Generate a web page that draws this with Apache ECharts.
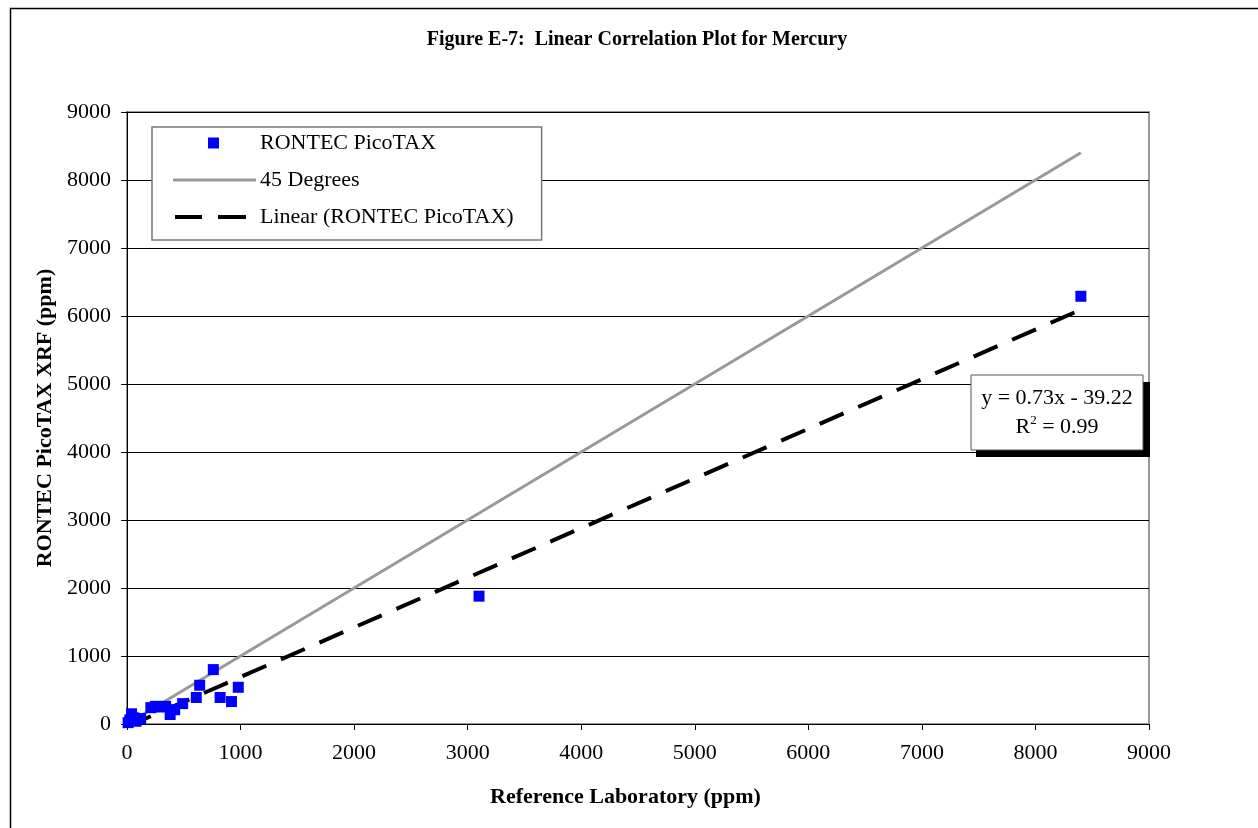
<!DOCTYPE html>
<html><head><meta charset="utf-8">
<script src="https://cdn.jsdelivr.net/npm/echarts@6/dist/echarts.min.js"></script>
<style>html,body{margin:0;padding:0;background:#fff}#c{width:1258px;height:828px}</style>
</head><body><div id="c"></div>
<script>
const refLab = [10,25,40,60,80,120,210,250,300,340,380,420,490,610,640,760,820,920,980,3100,8400];
const picotax = [20,60,150,90,40,80,240,260,250,260,140,210,300,390,570,800,390,330,540,1880,6290];
const slope = 0.73, intercept = -39.22;
const lineRange = [0, 8400];
const axisMin = 0, axisMax = 9000, axisStep = 1000;

const scatterData = refLab.map((x,i)=>[x,picotax[i]]);
const degData = lineRange.map(x=>[x,x]);
const trendData = lineRange.map(x=>[x, slope*x+intercept]);

const serif = '"Liberation Serif","DejaVu Serif",serif';
const chart = echarts.init(document.getElementById('c'));
chart.setOption({
  animation:false,
  backgroundColor:'#fff',
  title:{text:'Figure E-7:  Linear Correlation Plot for Mercury',left:632,top:25,textAlign:'center',
    textStyle:{fontFamily:serif,fontSize:20,fontWeight:'bold',color:'#000'}},
  grid:{left:127,right:109,top:112,bottom:104,show:true,borderColor:'#999',borderWidth:2,backgroundColor:'#fff'},
  legend:{left:152,top:127,orient:'vertical',itemGap:15,padding:[5,28,12,21],
    backgroundColor:'#fff',borderColor:'#777',borderWidth:1.5,itemWidth:83,itemHeight:14,
    textStyle:{fontFamily:serif,fontSize:22,lineHeight:22,color:'#000',padding:[0,0,0,-1]},
    data:[
      {name:'RONTEC PicoTAX',icon:'path://M0,0 M83,14 M35,1.5 H46 V12.5 H35Z',itemStyle:{color:'#0000ff',borderWidth:0}},
      {name:'45 Degrees',icon:'path://M0,0 M83,14 M0,5.5 H83 V8.5 H0Z',itemStyle:{color:'#999',borderWidth:0}},
      {name:'Linear (RONTEC PicoTAX)',icon:'path://M0,0 M83,14 M2,5 H29 V9 H2Z M45,5 H73 V9 H45Z',itemStyle:{color:'#000',borderWidth:0}}
    ]},
  xAxis:{type:'value',min:axisMin,max:axisMax,interval:axisStep,
    name:'Reference Laboratory (ppm)',nameLocation:'middle',nameGap:62,
    nameTextStyle:{fontFamily:serif,fontSize:22,fontWeight:'bold',color:'#000',padding:[0,25,0,0]},
    axisLine:{show:true,lineStyle:{color:'#000',width:1}},
    axisTick:{show:true,length:6,lineStyle:{color:'#000'}},
    axisLabel:{fontFamily:serif,fontSize:22,color:'#000',margin:18,formatter:v=>String(v)},
    splitLine:{show:false}},
  yAxis:{type:'value',min:axisMin,max:axisMax,interval:axisStep,
    name:'RONTEC PicoTAX XRF (ppm)',nameLocation:'middle',nameGap:71,
    nameTextStyle:{fontFamily:serif,fontSize:22,fontWeight:'bold',color:'#000'},
    axisLine:{show:true,lineStyle:{color:'#000',width:1}},
    axisTick:{show:true,length:6,lineStyle:{color:'#000'}},
    axisLabel:{fontFamily:serif,fontSize:22,color:'#000',margin:16,formatter:v=>String(v)},
    splitLine:{show:true,lineStyle:{color:'#000',width:1}}},
  series:[
    {name:'45 Degrees',type:'line',data:degData,symbol:'none',lineStyle:{color:'#999',width:3},itemStyle:{color:'#999'},z:2},
    {name:'Linear (RONTEC PicoTAX)',type:'line',data:trendData,symbol:'none',
      lineStyle:{color:'#000',width:4,type:[26,16]},itemStyle:{color:'#000'},z:3},
    {name:'RONTEC PicoTAX',type:'scatter',data:scatterData,symbol:'rect',symbolSize:11,
      itemStyle:{color:'#0000ff',opacity:1},z:4}
  ],
  graphic:[
    {type:'rect',left:8,top:6,z:-10,silent:true,shape:{width:1300,height:900},style:{fill:'none',stroke:'#000',lineWidth:1.5}},
    {type:'rect',x:976,y:382,z:100,shape:{width:174,height:75},style:{fill:'#000'}},
    {type:'rect',x:971,y:375,z:101,shape:{width:172,height:75},style:{fill:'#fff',stroke:'#555',lineWidth:1}},
    {type:'text',x:1057,y:398,z:102,style:{text:'y = 0.73x - 39.22',font:'22px "Liberation Serif"',fill:'#000',align:'center',verticalAlign:'middle'}},
    {type:'text',x:1057,y:426,z:102,style:{rich:{a:{font:'22px "Liberation Serif"',fill:'#000',verticalAlign:'bottom',lineHeight:24},s:{font:'13px "Liberation Serif"',fill:'#000',verticalAlign:'top',lineHeight:24}},
      text:'{a|R}{s|2}{a| = 0.99}',align:'center',verticalAlign:'middle'}}
  ]
});
</script></body></html>
